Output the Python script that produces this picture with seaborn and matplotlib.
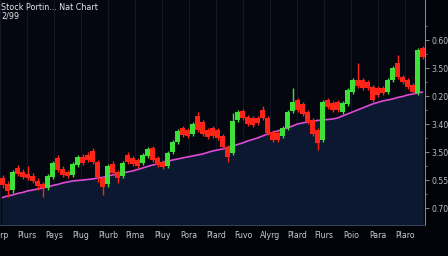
import numpy as np
import pandas as pd
import matplotlib
matplotlib.use("Agg")
import matplotlib.pyplot as plt
import seaborn as sns

# ---- data ----
opens = [52, 46, 40, 62, 58, 56, 54, 49, 46, 42, 53, 72, 61, 58, 55, 65, 73, 75, 79, 68,
         52, 46, 66, 58, 54, 75, 72, 70, 67, 74, 82, 72, 68, 64, 78, 88, 102, 100, 96, 114,
         108, 100, 102, 100, 94, 83, 77, 110, 119, 113, 112, 112, 120, 112, 98, 97, 94, 102, 119, 130,
         126, 118, 110, 100, 90, 130, 127, 128, 118, 126, 138, 150, 150, 148, 143, 142, 142, 138, 150, 167,
         153, 150, 145, 137, 182]
closes = [45, 39, 58, 56, 53, 52, 49, 44, 42, 54, 67, 60, 55, 54, 66, 73, 67, 70, 68, 53,
          43, 64, 57, 52, 67, 68, 66, 64, 75, 81, 70, 65, 63, 77, 88, 99, 95, 94, 106, 100,
          96, 93, 94, 92, 83, 73, 109, 118, 112, 106, 105, 107, 112, 97, 90, 90, 102, 118, 128, 120,
          116, 108, 96, 87, 128, 123, 120, 120, 127, 140, 150, 144, 142, 142, 130, 135, 137, 150, 162, 153,
          148, 143, 138, 180, 173]
highs = [55, 49, 60, 65, 61, 64, 57, 52, 48, 56, 69, 75, 64, 60, 68, 75, 76, 78, 82, 70,
         54, 66, 69, 60, 69, 78, 74, 72, 77, 83, 84, 74, 70, 79, 90, 101, 104, 102, 108, 118,
         110, 102, 104, 102, 96, 85, 117, 120, 121, 115, 114, 114, 124, 114, 100, 99, 104, 120, 142, 132,
         128, 120, 112, 102, 130, 132, 129, 130, 129, 142, 152, 167, 152, 150, 145, 144, 144, 152, 164, 175,
         155, 152, 147, 182, 184]
lows = [42, 33, 37, 54, 51, 50, 47, 40, 33, 40, 51, 58, 53, 52, 53, 63, 65, 68, 66, 48,
        35, 43, 55, 47, 52, 66, 64, 62, 65, 72, 68, 63, 61, 62, 76, 86, 93, 92, 94, 98,
        94, 91, 92, 90, 81, 68, 75, 108, 110, 104, 103, 105, 110, 95, 88, 88, 92, 100, 117, 118,
        114, 106, 94, 80, 88, 121, 118, 118, 116, 124, 136, 142, 140, 140, 128, 133, 135, 136, 148, 151,
        146, 141, 136, 135, 171]
moving_avg = [32.5, 34, 35, 36.5, 37.5, 39, 40, 41, 42, 43, 44.5, 45.5, 47, 48, 49, 49.5, 50, 50.5, 51, 52,
              52.5, 54, 55, 56, 57, 58, 59, 60.5, 62, 63.5, 65, 66, 67.5, 68.5, 70, 71, 72, 73, 74, 75,
              76, 77.5, 79, 80, 81, 82.5, 84, 85.5, 87, 89, 90.5, 92, 94, 96, 97.5, 99, 100.5, 102, 104, 106,
              107, 108, 109, 109.5, 110, 110.5, 111, 112, 114, 116, 118, 120, 122, 124, 126, 127.5, 129, 130, 131, 132.5,
              133.5, 135, 136, 137, 138]
x_labels = ["Parp", "Plurs", "Pays", "Plug", "Plurb", "Pima", "Pluy", "Pora",
            "Plard", "Fuvo", "Alyrg", "Plard", "Flurs", "Poio", "Para", "Plaro"]
y_tick_values = [22, 50, 78, 106, 134, 162, 190]
y_tick_labels = ["0.70", "0.55", "3.50", "3.40", "0.20", "3.50", "0.60"]
title_line1 = "Stock Portin... Nat Chart"
title_line2 = "2/99"

n = len(opens)
df = pd.DataFrame({"idx": np.arange(n), "open": opens, "close": closes,
                   "high": highs, "low": lows, "ma": moving_avg})
df["up"] = df["close"] >= df["open"]

sns.set_theme(style="dark")
plt.rcParams["font.family"] = ["DejaVu Sans"]

BG_TOP = "#04070f"
FILL = "#0b1830"
RED = "#ff2418"
GREEN = "#3ee03a"
PINK = "#e04ad8"

fig = plt.figure(figsize=(4.48, 2.56), dpi=100, facecolor="#020308")
ax = fig.add_axes([0, 31 / 256, 425 / 448, 225 / 256])
ax.set_facecolor(BG_TOP)

ax.set_xlim(-0.5, 84.5)
ax.set_ylim(5, 230)

# grid
tick_pos = [-0.5 + 5.4 * k for k in range(len(x_labels))]
for tp in tick_pos:
    ax.axvline(tp, color="#141c2c", lw=0.6, zorder=0)

# fill under moving average
ax.fill_between(df["idx"], 5, df["ma"], color=FILL, zorder=1)

# moving average line (seaborn)
sns.lineplot(data=df, x="idx", y="ma", ax=ax, color=PINK, lw=1.2, zorder=3)

# candles
colors = np.where(df["up"], GREEN, RED)
ax.vlines(df["idx"], df["low"], df["high"], colors=colors, lw=1.0, zorder=4)
body_bottom = np.minimum(df["open"], df["close"])
body_h = np.maximum(np.abs(df["close"] - df["open"]), 2)
ax.bar(df["idx"], body_h, bottom=body_bottom, width=0.85, color=colors, zorder=5, linewidth=0)

# axes styling
ax.set_xlabel("")
ax.set_ylabel("")
ax.set_xticks(tick_pos)
ax.set_xticklabels(x_labels, color="#c8ccd4", fontsize=5.6)
ax.tick_params(axis="x", length=0, pad=4)
ax.yaxis.tick_right()
ax.set_yticks(y_tick_values)
ax.set_yticklabels(y_tick_labels, color="#b8bcc4", fontsize=5.6)
ax.set_yticks([v + 14 for v in y_tick_values], minor=True)
ax.tick_params(axis="y", which="major", length=3, color="#9aa0aa", width=0.6, pad=2)
ax.tick_params(axis="y", which="minor", length=1.5, color="#9aa0aa", width=0.5)
for side in ["top", "left"]:
    ax.spines[side].set_visible(False)
ax.spines["right"].set_color("#8a909a")
ax.spines["right"].set_linewidth(0.7)
ax.spines["bottom"].set_color("#3a4458")
ax.spines["bottom"].set_linewidth(0.7)
ax.grid(False)

fig.text(0.003, 0.988, title_line1, color="#e6e8ee", fontsize=5.8, va="top", ha="left")
fig.text(0.003, 0.955, title_line2, color="#e6e8ee", fontsize=5.8, va="top", ha="left")

fig.savefig("out.png", dpi=100, facecolor=fig.get_facecolor())
